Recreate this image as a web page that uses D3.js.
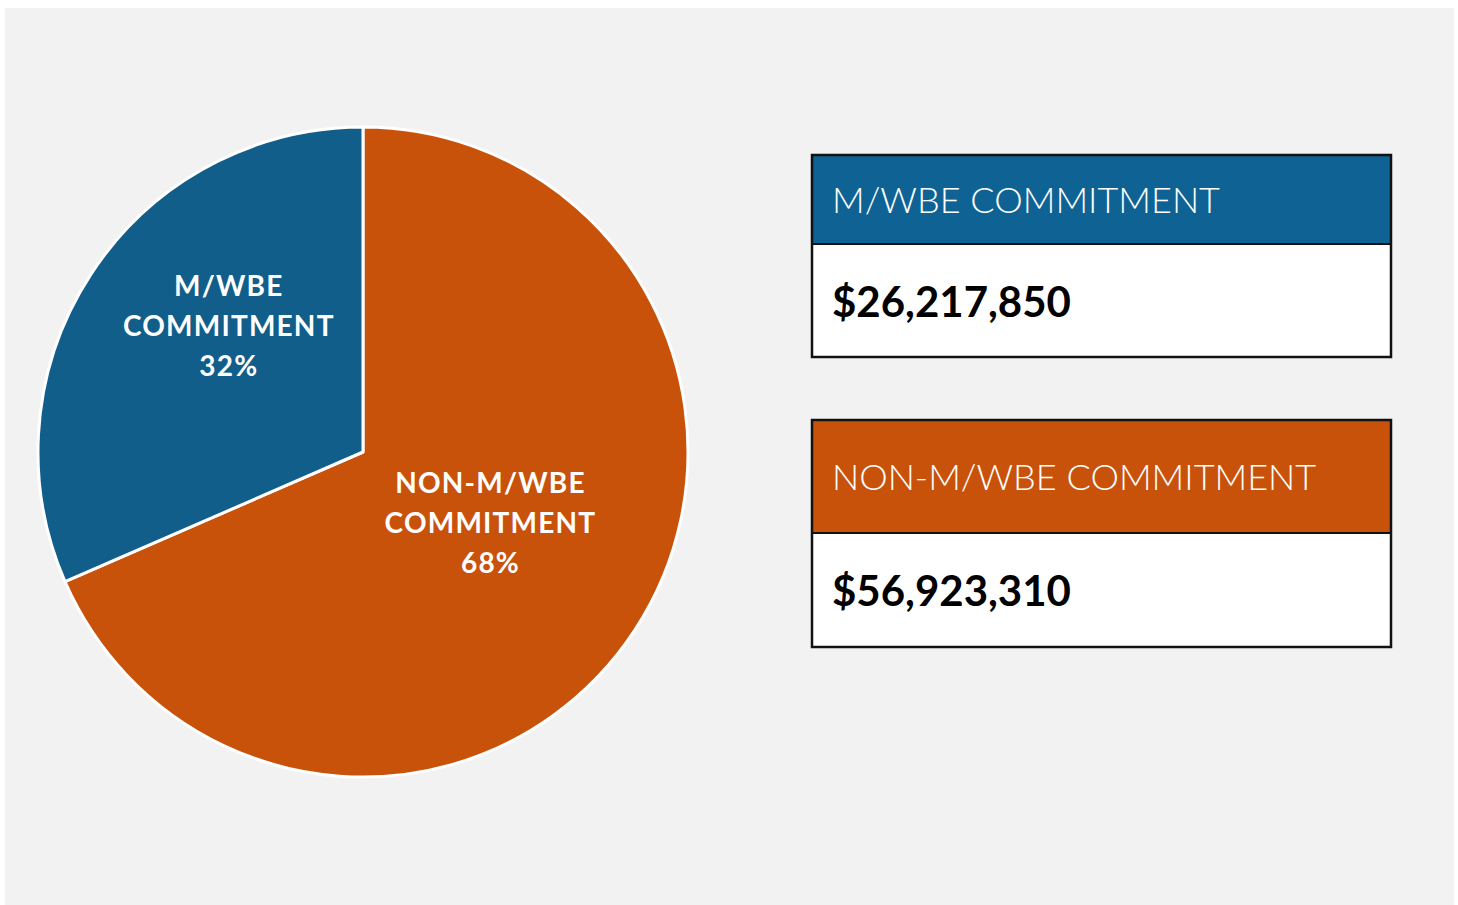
<!DOCTYPE html>
<html>
<head>
<meta charset="utf-8">
<script src="https://cdn.jsdelivr.net/npm/d3@7"></script>
<style>
  html, body { margin: 0; padding: 0; background: #ffffff; }
  svg { display: block; }
</style>
</head>
<body>
<svg id="chart" width="1458" height="905"></svg>
<script>
// Commitment categories and dollar amounts
const categories = ["NON-M/WBE COMMITMENT", "M/WBE COMMITMENT"];
const pieLabelLines = [["NON-M/WBE", "COMMITMENT"], ["M/WBE", "COMMITMENT"]];
const amounts = [56923310, 26217850];
const colors = ["#c9520b", "#125e8b"];
const headerColors = ["#c9520b", "#0f6394"];

// Summary boxes are listed M/WBE first
const boxOrder = [1, 0];

const FONT = "Futura, 'Century Gothic', Lato, 'Open Sans', sans-serif";
const svg = d3.select("#chart");

// Panel background
svg.append("rect")
  .attr("x", 5).attr("y", 8)
  .attr("width", 1449).attr("height", 897)
  .attr("fill", "#f2f2f2");

// Pie
const cx = 363, cy = 452, R = 325;
const total = d3.sum(amounts);
const pie = d3.pie().sort(null).value(d => d)(amounts);
const arc = d3.arc().innerRadius(0).outerRadius(R);

const g = svg.append("g").attr("transform", `translate(${cx},${cy})`);

g.selectAll("path.slice")
  .data(pie)
  .join("path")
  .attr("class", "slice")
  .attr("d", arc)
  .attr("fill", (d, i) => colors[i])
  .attr("stroke", "#ffffff")
  .attr("stroke-width", 3)
  .attr("stroke-linejoin", "round");

// Slice labels, placed along each slice's middle angle with a small nudge
const labelRadius = [150, 176];
const labelNudge = [[2, -11], [13, -30]];
const pct = d3.format(".0%");
pie.forEach((d, i) => {
  const a = (d.startAngle + d.endAngle) / 2;
  const x = Math.sin(a) * labelRadius[i] + labelNudge[i][0];
  const y = -Math.cos(a) * labelRadius[i] + labelNudge[i][1];
  const lines = pieLabelLines[i].concat([pct(amounts[i] / total)]);
  const t = g.append("text")
    .attr("text-anchor", "middle")
    .attr("font-family", FONT)
    .attr("font-weight", 700)
    .attr("font-size", 28)
    .attr("letter-spacing", 1.2)
    .attr("fill", "#ffffff");
  lines.forEach((ln, k) => {
    t.append("tspan")
      .attr("x", x)
      .attr("y", y + (k - 1) * 40 + 10)
      .text(ln);
  });
});

// Summary boxes
const boxes = [
  { y: 155, headerH: 89, bodyH: 113 },
  { y: 420, headerH: 113, bodyH: 114 }
];
const boxX = 812, boxW = 579;
const money = v => "$" + d3.format(",")(v);

boxOrder.forEach((idx, b) => {
  const bx = boxes[b];
  const bg = svg.append("g");
  bg.append("rect")
    .attr("x", boxX).attr("y", bx.y + bx.headerH)
    .attr("width", boxW).attr("height", bx.bodyH)
    .attr("fill", "#ffffff");
  bg.append("rect")
    .attr("x", boxX).attr("y", bx.y)
    .attr("width", boxW).attr("height", bx.headerH)
    .attr("fill", headerColors[idx]);
  bg.append("line")
    .attr("x1", boxX).attr("x2", boxX + boxW)
    .attr("y1", bx.y + bx.headerH).attr("y2", bx.y + bx.headerH)
    .attr("stroke", "#111").attr("stroke-width", 2);
  bg.append("rect")
    .attr("x", boxX).attr("y", bx.y)
    .attr("width", boxW).attr("height", bx.headerH + bx.bodyH)
    .attr("fill", "none")
    .attr("stroke", "#111").attr("stroke-width", 2.5);

  bg.append("text")
    .attr("x", boxX + 20)
    .attr("y", bx.y + bx.headerH / 2 + 13)
    .attr("font-family", FONT)
    .attr("font-weight", 300)
    .attr("font-size", 36)
    .attr("fill", "#ffffff")
    .text(categories[idx]);

  bg.append("text")
    .attr("x", boxX + 20)
    .attr("y", bx.y + bx.headerH + bx.bodyH / 2 + 16)
    .attr("font-family", FONT)
    .attr("font-weight", 700)
    .attr("font-size", 42)
    .attr("fill", "#000000")
    .text(money(amounts[idx]));
});
</script>
</body>
</html>
